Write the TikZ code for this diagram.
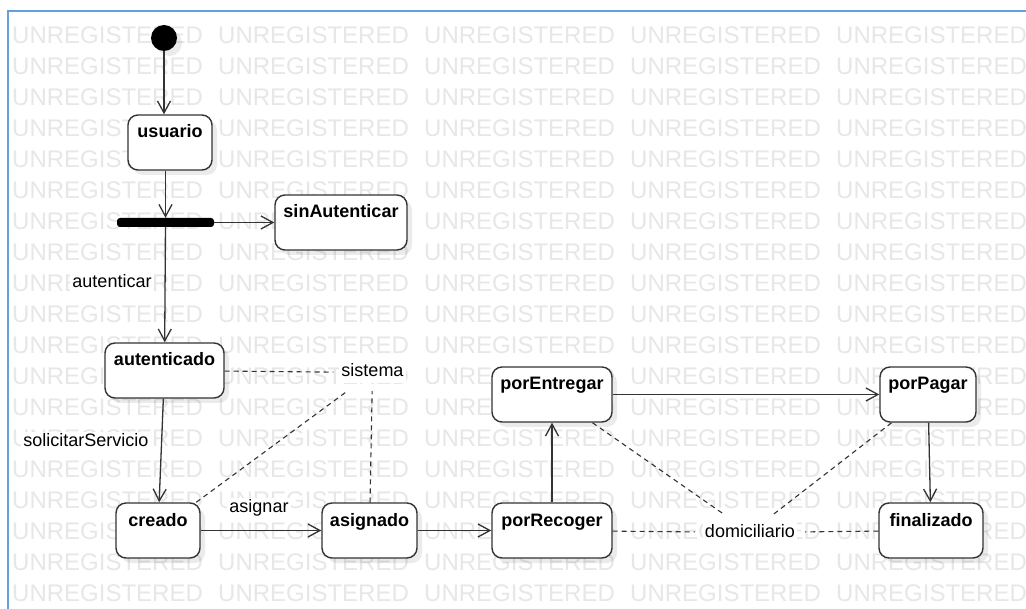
\documentclass[tikz,border=0pt]{standalone}
\usepackage{fontspec}
\setmainfont{Liberation Sans}
\usetikzlibrary{arrows.meta,shadows}
\definecolor{wmgray}{RGB}{231,231,231}
\definecolor{frameblue}{RGB}{98,160,222}
\definecolor{ink}{RGB}{51,51,51}
\begin{document}
\begin{tikzpicture}[x=1pt,y=-1pt,
  wm/.style={anchor=base west, inner sep=0pt, text=wmgray, font=\fontsize{24}{28}\selectfont},
  state/.style={draw=ink, line width=1.4pt, fill=white, rounded corners=10pt,
    inner xsep=0pt, inner ysep=5pt, text height=18pt, text depth=27pt,
    minimum height=55pt, font=\fontsize{18}{20}\selectfont\bfseries,
    drop shadow={shadow xshift=5pt, shadow yshift=-5pt, fill=black, opacity=0.08}},
  lbl/.style={fill=white, inner sep=2pt, text height=13pt, text depth=4pt,
    font=\fontsize{18}{20}\selectfont},
  trans/.style={draw=ink, line width=1.3pt,
    -{Straight Barb[length=12pt,width=13pt,line width=1.3pt]}},
  link/.style={draw=ink, line width=1.1pt, dash pattern=on 5pt off 4pt},
]
\useasboundingbox (0,0) rectangle (1026,609);
\fill[white] (0,0) rectangle (1026,609);

% watermark grid
\foreach \c in {0,...,4}{
  \foreach \r in {0,...,18}{
    \node[wm] (wm-\c-\r) at ({12+206*\c},{43.5+31*\r}) {UNREGISTERED};
  }
}

% frame
\draw[frameblue, line width=1.5pt] (8,609) -- (8,11) -- (1026,11);

% pseudo states
\node[circle, fill=black, minimum size=26pt, inner sep=0pt,
  drop shadow={shadow xshift=5pt, shadow yshift=-5pt, fill=black, opacity=0.08}] (init) at (164,38) {};
\node[fill=black, rounded corners=3pt, minimum width=97pt, minimum height=9pt, inner sep=0pt] (fork) at (165.5,222.5) {};

% states
\node[state, minimum width=84pt]  (usuario)       at (170,142.5)   {usuario};
\node[state, minimum width=132pt] (sinAutenticar) at (341,222.5)   {sinAutenticar};
\node[state, minimum width=119pt] (autenticado)   at (164.5,370.5) {autenticado};
\node[state, minimum width=84pt]  (creado)        at (158,530.5)   {creado};
\node[state, minimum width=95pt]  (asignado)      at (369.5,530.5) {asignado};
\node[state, minimum width=120pt] (porRecoger)    at (552,530.5)   {porRecoger};
\node[state, minimum width=120pt] (porEntregar)   at (552,394.5)   {porEntregar};
\node[state, minimum width=96pt]  (porPagar)      at (928,394.5)   {porPagar};
\node[state, minimum width=104pt] (finalizado)    at (931,530.5)   {finalizado};

% labels and participants
\node[lbl] (lAut) at (112,283.5) {autenticar};
\node[lbl] (lSol) at (86,442.5) {solicitarServicio};
\node[lbl] (lAsig) at (259,508.5) {asignar};
\node[lbl, outer xsep=6pt, outer ysep=8pt] (sistema) at (372.5,372.5) {sistema};
\node[lbl, outer xsep=8pt, outer ysep=8pt] (domiciliario) at (750,532.5) {domiciliario};

% transitions
\draw[trans] (init) -- (init |- usuario.north);
\draw[trans] (fork.north |- usuario.south) -- (fork.north);
\draw[trans] (fork.east) -- (fork.east -| sinAutenticar.west);
\draw[trans] (fork) -- (autenticado);
\draw[trans] (autenticado) -- (creado);
\draw[trans] (creado) -- (asignado);
\draw[trans] (asignado) -- (porRecoger);
\draw[trans] (porRecoger) -- (porEntregar);
\draw[trans] (porEntregar) -- (porPagar);
\draw[trans] (porPagar) -- (finalizado);

% participant links
\draw[link] (autenticado) -- (sistema);
\draw[link] (creado) -- (sistema);
\draw[link] (asignado) -- (sistema);
\draw[link] (porRecoger) -- (domiciliario);
\draw[link] (porEntregar) -- (domiciliario);
\draw[link] (porPagar) -- (domiciliario);
\draw[link] (finalizado) -- (domiciliario);
\end{tikzpicture}
\end{document}
